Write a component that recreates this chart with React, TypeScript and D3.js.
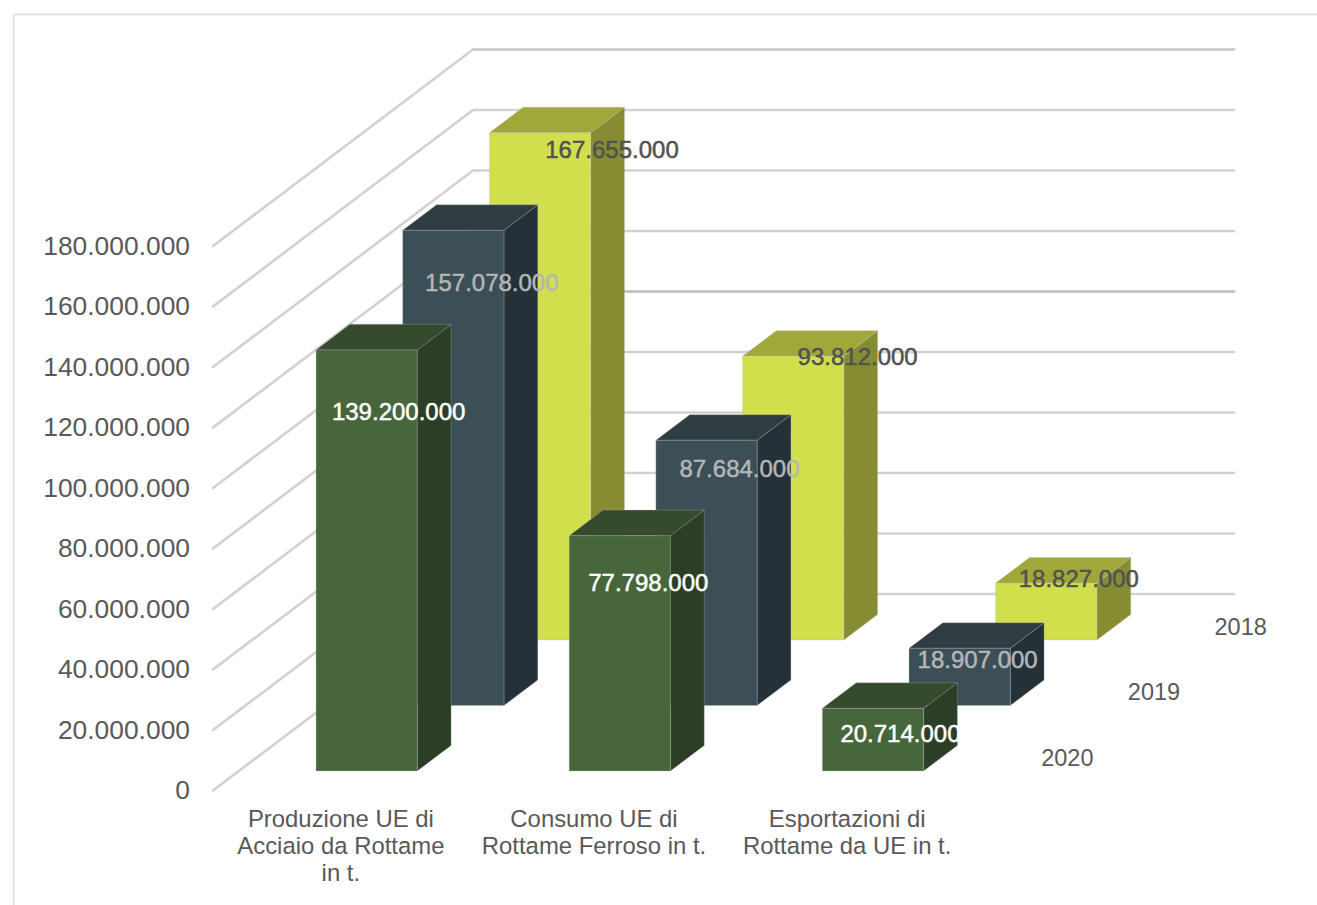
import React from "react";
import * as d3 from "d3";

// Series, front row first
const categories = [
  ["Produzione UE di", "Acciaio da Rottame", "in t."],
  ["Consumo UE di", "Rottame Ferroso in t."],
  ["Esportazioni di", "Rottame da UE in t."],
];
const years = ["2020", "2019", "2018"];
const values2020 = [139200000, 77798000, 20714000];
const values2019 = [157078000, 87684000, 18907000];
const values2018 = [167655000, 93812000, 18827000];
const yTicks = [0, 20000000, 40000000, 60000000, 80000000, 100000000, 120000000, 140000000, 160000000, 180000000];

const seriesValues = [values2020, values2019, values2018];

// Face colours per series: front, top, side, label
const palette = [
  { front: "#47663b", top: "#364a2d", side: "#2c3f26", label: "#ffffff" },
  { front: "#3c4f57", top: "#2f3c42", side: "#253138", label: "#b4b6b7" },
  { front: "#d1df4c", top: "#9fa838", side: "#858c32", label: "#515151" },
];

// Hand placement of the value labels relative to each bar's front face (series, category)
const labelShift = [
  [[32, 61.5], [28.5, 47], [27.5, 25]],
  [[38.5, 52.5], [33, 28.5], [18, 11.5]],
  [[72, 17], [64.5, 0.5], [32.5, -4.5]],
];

const WIDTH = 1317;
const HEIGHT = 905;
const FLOOR_X = 213;
const FLOOR_Y = 790.5;
const ROW_DX = 86.67;
const ROW_DY = 65.5;
const BAR_START = 0.298; // where a bar begins inside its depth row
const BAR_DEPTH = 0.39; // bar depth as a fraction of a row
const WALL_WIDTH = 761;

const fmt = (v: number) => d3.format(",")(v).replace(/,/g, ".");

const App = () => {
  const y = d3.scaleLinear().domain([0, 180000000]).range([0, 544.5]);
  const x = d3
    .scaleBand<number>()
    .domain(d3.range(categories.length))
    .range([0, 762])
    .paddingInner(0.6)
    .paddingOuter(0.305)
    .align(0.5);

  // Oblique projection: position along x, height, depth in rows
  const project = (px: number, h: number, d: number): [number, number] => [
    FLOOR_X + px + d * ROW_DX,
    FLOOR_Y - h - d * ROW_DY,
  ];
  const poly = d3.line<[number, number]>().curve(d3.curveLinearClosed);

  const fontFamily = "'Liberation Sans', Arial, sans-serif";
  const rows = d3.range(years.length).reverse();

  return (
    <svg
      width={WIDTH}
      height={HEIGHT}
      viewBox={`0 0 ${WIDTH} ${HEIGHT}`}
      style={{ position: "absolute", left: 0, top: 0, display: "block", background: "#fff" }}
      fontFamily={fontFamily}
    >
      {/* chart frame */}
      <path d={`M13.5 ${HEIGHT}V14.5H${WIDTH}`} fill="none" stroke="#dcdcdc" strokeWidth={1.5} />

      {/* side wall and back wall gridlines */}
      {yTicks.map((t) => {
        const [x0, y0] = project(0, y(t), 0);
        const [x1, y1] = project(0, y(t), 3);
        const [x2, y2] = project(WALL_WIDTH, y(t), 3);
        return (
          <g key={t} fill="none" strokeWidth={2.6} strokeLinecap="round" strokeLinejoin="round">
            <path d={`M${x0} ${y0}L${x1} ${y1}`} stroke="#d2d2d2" />
            <path
              d={`M${x1} ${y1}L${x2} ${y2}`}
              stroke={t === 100000000 ? "#bcbcbc" : t === 180000000 ? "#c6c6c6" : "#d2d2d2"}
            />
          </g>
        );
      })}

      {/* value axis */}
      {yTicks.map((t) => (
        <text
          key={t}
          x={190}
          y={project(0, y(t), 0)[1]}
          dy="0.33em"
          textAnchor="end"
          fontSize={26.4}
          fill="#595959"
        >
          {fmt(t)}
        </text>
      ))}

      {/* bars, back row first so nearer rows overlap */}
      {rows.map((r) =>
        categories.map((_, c) => {
          const v = seriesValues[r][c];
          const x0 = x(c)!;
          const x1 = x0 + x.bandwidth();
          const d0 = r + BAR_START;
          const d1 = d0 + BAR_DEPTH;
          const h = y(v);
          const colors = palette[r];
          const edge = { stroke: "#b9b9b9", strokeOpacity: 0.3, strokeWidth: 1 };
          return (
            <g key={`${r}-${c}`}>
              <path
                d={poly([project(x1, 0, d0), project(x1, 0, d1), project(x1, h, d1), project(x1, h, d0)])!}
                fill={colors.side}
                {...edge}
              />
              <path
                d={poly([project(x0, h, d0), project(x1, h, d0), project(x1, h, d1), project(x0, h, d1)])!}
                fill={colors.top}
                {...edge}
              />
              <path
                d={poly([project(x0, 0, d0), project(x1, 0, d0), project(x1, h, d0), project(x0, h, d0)])!}
                fill={colors.front}
                {...edge}
              />
            </g>
          );
        })
      )}

      {/* value labels */}
      {rows.map((r) =>
        categories.map((_, c) => {
          const v = seriesValues[r][c];
          const [fx, fy] = project(x(c)! + x.bandwidth() / 2, y(v), r + BAR_START);
          const [sx, sy] = labelShift[r][c];
          return (
            <text
              key={`${r}-${c}`}
              x={fx + sx}
              y={fy + sy}
              dy="0.36em"
              textAnchor="middle"
              fontSize={24}
              fill={palette[r].label}
              stroke={palette[r].label}
              strokeWidth={0.5}
            >
              {fmt(v)}
            </text>
          );
        })
      )}

      {/* category labels */}
      {categories.map((lines, c) => {
        const cx = project(x(c)! + x.bandwidth() / 2, 0, 0)[0];
        return (
          <text key={c} x={cx} y={826.5} textAnchor="middle" fontSize={23.9} fill="#595959">
            {lines.map((line, i) => (
              <tspan key={i} x={cx} dy={i === 0 ? 0 : 27.3}>
                {line}
              </tspan>
            ))}
          </text>
        );
      })}

      {/* depth axis */}
      {years.map((yr, r) => {
        const [px, py] = project(WALL_WIDTH + 50, 0, r + 0.5);
        return (
          <text key={yr} x={px} y={py} dy="0.33em" textAnchor="middle" fontSize={23.5} fill="#595959">
            {yr}
          </text>
        );
      })}
    </svg>
  );
};

export default App;
